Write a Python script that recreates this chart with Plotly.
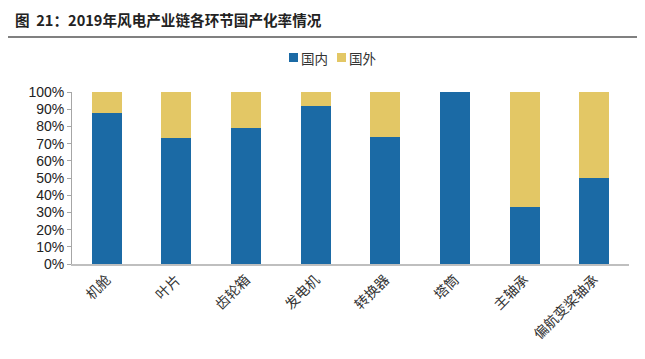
import plotly.graph_objects as go

categories = ["机舱", "叶片", "齿轮箱", "发电机", "转换器", "塔筒", "主轴承", "偏航变桨轴承"]
domestic = [0.88, 0.73, 0.79, 0.92, 0.74, 1.00, 0.33, 0.50]
foreign = [round(1 - d, 2) for d in domestic]
y_ticks = [i / 10 for i in range(11)]
y_labels = [f"{i*10}%" for i in range(11)]
series_names = ["国内", "国外"]

blue = "#1B6AA5"
yellow = "#E3C765"
cjk = "Noto Sans CJK SC"

# page offset of 8px (body margin) is compensated in figure size and margins
L, T, W, H = 72, 92, 557, 172


def px(x):
    return (x - L) / W


def py(y):
    return (T + H - y) / H


fig = go.Figure()
fig.add_bar(x=categories, y=domestic, name=series_names[0], marker=dict(color=blue, line=dict(width=0)))
fig.add_bar(x=categories, y=foreign, name=series_names[1], marker=dict(color=yellow, line=dict(width=0)))

fig.update_layout(
    barmode="stack",
    bargap=0.57,
    width=637, height=351,
    margin=dict(l=L - 8, r=16, t=T - 8, b=95),
    plot_bgcolor="white", paper_bgcolor="white",
    showlegend=False,
    xaxis=dict(tickangle=-45, tickfont=dict(family=cjk, size=14, color="#333333"),
               showline=True, linecolor="#BFBFBF", linewidth=2, ticks="",
               showgrid=False, automargin=False),
    yaxis=dict(range=[0, 1], tickvals=y_ticks, ticktext=y_labels,
               tickfont=dict(family="Liberation Sans, Arial", size=14, color="#222222"),
               showline=True, linecolor="#A6A6A6", linewidth=1, ticks="outside",
               ticklen=4, tickcolor="#A6A6A6", showgrid=False, zeroline=False,
               automargin=False),
)

# legend
for i, (name, col) in enumerate(zip(series_names, [blue, yellow])):
    x0 = 289 + i * 48
    fig.add_shape(type="rect", xref="paper", yref="paper",
                  x0=px(x0), x1=px(x0 + 9), y0=py(62), y1=py(53),
                  fillcolor=col, line=dict(width=0))
    fig.add_annotation(text=name, xref="paper", yref="paper",
                       x=px(x0 + 10), y=py(57.5), xanchor="left", yanchor="middle",
                       showarrow=False, font=dict(family=cjk, size=13.5, color="#333333"))

fig.add_annotation(text="<b>图  21：2019年风电产业链各环节国产化率情况</b>", xref="paper", yref="paper",
                   x=px(13), y=py(20), xanchor="left", yanchor="middle",
                   showarrow=False, font=dict(family=cjk, size=14.6, color="#222222"))
fig.add_shape(type="line", xref="paper", yref="paper",
              x0=px(5), x1=px(640), y0=py(37), y1=py(37),
              line=dict(color="#808080", width=2))

fig.write_html("out.html")
